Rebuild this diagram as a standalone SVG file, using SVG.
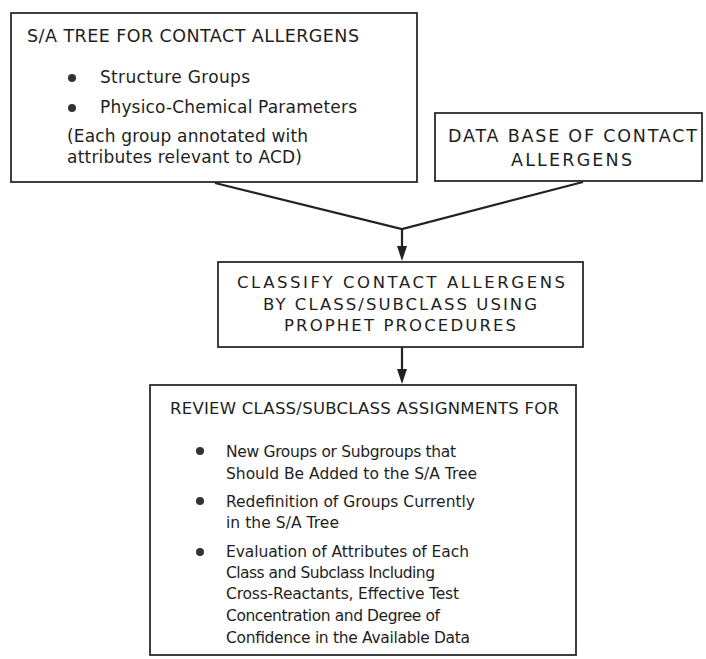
<svg xmlns="http://www.w3.org/2000/svg" width="706" height="659" viewBox="0 0 706 659">
<style>
.box{fill:#fff;stroke:#2a2a2a;stroke-width:1.8}
.t{font-family:"DejaVu Sans","Liberation Sans",sans-serif;fill:#1e1e1e}
.h{font-size:17.5px}
.b{font-size:17px}
.s{font-size:15.5px}
.c{font-size:16.5px}
.dot{fill:#333}
.con{stroke:#222;stroke-width:2.2;fill:none}
</style>
<rect width="706" height="659" fill="#fff"/>
<g id="connectors">
<polyline class="con" points="215,183 402,229 583,182"/>
<line class="con" x1="402" y1="229" x2="402" y2="247"/>
<path d="M397,246 L407,246 L402,261 Z" fill="#222"/>
<line class="con" x1="402" y1="347" x2="402" y2="370"/>
<path d="M397,369 L407,369 L402,384 Z" fill="#222"/>
</g>
<g id="node-sa-tree">
<rect class="box" x="11" y="13" width="406" height="169"/>
<text class="t h" x="27" y="42" textLength="332" lengthAdjust="spacing">S/A TREE FOR CONTACT ALLERGENS</text>
<circle class="dot" cx="72" cy="78" r="4"/>
<text class="t b" x="100" y="83" textLength="150" lengthAdjust="spacing">Structure Groups</text>
<circle class="dot" cx="72" cy="108" r="4"/>
<text class="t b" x="100" y="113" textLength="257" lengthAdjust="spacing">Physico-Chemical Parameters</text>
<text class="t b" x="67" y="142" textLength="241" lengthAdjust="spacing">(Each group annotated with</text>
<text class="t b" x="67" y="163" textLength="235" lengthAdjust="spacing">attributes relevant to ACD)</text>
</g>
<g id="node-database">
<rect class="box" x="435" y="113" width="267" height="68"/>
<text class="t h" x="448" y="142" textLength="249" lengthAdjust="spacing">DATA BASE OF CONTACT</text>
<text class="t h" x="511" y="166" textLength="121" lengthAdjust="spacing">ALLERGENS</text>
</g>
<g id="node-classify">
<rect class="box" x="218" y="262" width="365" height="85"/>
<text class="t c" x="237" y="288" textLength="328" lengthAdjust="spacing">CLASSIFY CONTACT ALLERGENS</text>
<text class="t c" x="263" y="310" textLength="274" lengthAdjust="spacing">BY CLASS/SUBCLASS USING</text>
<text class="t c" x="284" y="331" textLength="232" lengthAdjust="spacing">PROPHET PROCEDURES</text>
</g>
<g id="node-review">
<rect class="box" x="150" y="385" width="426" height="270"/>
<text class="t c" x="170" y="414" textLength="389" lengthAdjust="spacing">REVIEW CLASS/SUBCLASS ASSIGNMENTS FOR</text>
<circle class="dot" cx="200" cy="451" r="4"/>
<text class="t s" x="226" y="457" textLength="230" lengthAdjust="spacing">New Groups or Subgroups that</text>
<text class="t s" x="226" y="479" textLength="251" lengthAdjust="spacing">Should Be Added to the S/A Tree</text>
<circle class="dot" cx="200" cy="501" r="4"/>
<text class="t s" x="226" y="507" textLength="249" lengthAdjust="spacing">Redefinition of Groups Currently</text>
<text class="t s" x="226" y="528" textLength="113" lengthAdjust="spacing">in the S/A Tree</text>
<circle class="dot" cx="200" cy="552" r="4"/>
<text class="t s" x="226" y="557" textLength="243" lengthAdjust="spacing">Evaluation of Attributes of Each</text>
<text class="t s" x="226" y="578" textLength="209" lengthAdjust="spacing">Class and Subclass Including</text>
<text class="t s" x="226" y="599" textLength="233" lengthAdjust="spacing">Cross-Reactants, Effective Test</text>
<text class="t s" x="226" y="621" textLength="214" lengthAdjust="spacing">Concentration and Degree of</text>
<text class="t s" x="226" y="643" textLength="244" lengthAdjust="spacing">Confidence in the Available Data</text>
</g>
</svg>
